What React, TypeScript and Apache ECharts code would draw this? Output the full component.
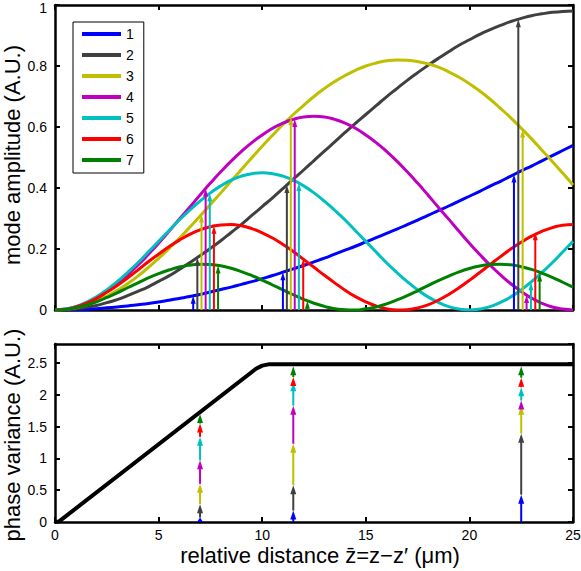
import React, { useEffect, useRef } from "react";
import * as echarts from "echarts";

// ---------- data ----------
const Z = [
  0, 0.5, 1, 1.5, 2, 2.5, 3, 3.5, 4, 4.5, 5, 5.5, 6, 6.5, 7, 7.5, 8, 8.5, 9, 9.5,
  10, 10.5, 11, 11.5, 12, 12.5, 13, 13.5, 14, 14.5, 15, 15.5, 16, 16.5, 17, 17.5, 18, 18.5, 19, 19.5,
  20, 20.5, 21, 21.5, 22, 22.5, 23, 23.5, 24, 24.5, 25,
];

const MODE_NAMES = ["1", "2", "3", "4", "5", "6", "7"];
const MODE_COLORS = ["#0000ff", "#404040", "#bfbf00", "#bf00bf", "#00bfbf", "#ff0000", "#008000"];

const MODE1 = [
  0, 0.000, 0.001, 0.002, 0.004, 0.007, 0.010, 0.013, 0.017, 0.021, 0.026, 0.032, 0.038, 0.044, 0.051, 0.059,
  0.067, 0.075, 0.084, 0.093, 0.103, 0.113, 0.124, 0.135, 0.146, 0.158, 0.170, 0.183, 0.196, 0.209, 0.223,
  0.237, 0.251, 0.265, 0.280, 0.295, 0.310, 0.326, 0.341, 0.357, 0.373, 0.389, 0.406, 0.422, 0.439, 0.456,
  0.472, 0.489, 0.506, 0.523, 0.540,
];
const MODE2 = [
  0, 0.001, 0.004, 0.009, 0.015, 0.024, 0.034, 0.047, 0.061, 0.076, 0.094, 0.112, 0.133, 0.155, 0.178, 0.202,
  0.227, 0.254, 0.281, 0.310, 0.339, 0.368, 0.398, 0.429, 0.459, 0.490, 0.521, 0.551, 0.582, 0.612, 0.641,
  0.670, 0.699, 0.726, 0.753, 0.778, 0.802, 0.825, 0.847, 0.868, 0.886, 0.904, 0.919, 0.933, 0.946, 0.956,
  0.965, 0.971, 0.976, 0.979, 0.980,
];
const MODE3 = [
  0, 0.002, 0.007, 0.016, 0.029, 0.045, 0.064, 0.086, 0.111, 0.139, 0.169, 0.201, 0.235, 0.271, 0.308, 0.346,
  0.384, 0.423, 0.461, 0.499, 0.537, 0.573, 0.608, 0.641, 0.671, 0.700, 0.726, 0.749, 0.769, 0.786, 0.800,
  0.810, 0.817, 0.820, 0.819, 0.815, 0.807, 0.796, 0.781, 0.763, 0.742, 0.718, 0.691, 0.661, 0.630, 0.596,
  0.561, 0.524, 0.487, 0.449, 0.410,
];
const MODE4 = [
  0, 0.003, 0.010, 0.022, 0.039, 0.061, 0.086, 0.115, 0.147, 0.182, 0.219, 0.258, 0.298, 0.337, 0.377, 0.416,
  0.453, 0.488, 0.520, 0.549, 0.574, 0.596, 0.613, 0.625, 0.633, 0.635, 0.633, 0.625, 0.613, 0.596, 0.574,
  0.549, 0.520, 0.488, 0.453, 0.416, 0.377, 0.337, 0.298, 0.258, 0.219, 0.182, 0.147, 0.115, 0.086, 0.061,
  0.039, 0.022, 0.010, 0.003, 0,
];
const MODE5 = [
  0, 0.003, 0.011, 0.025, 0.043, 0.066, 0.093, 0.123, 0.155, 0.190, 0.225, 0.260, 0.295, 0.327, 0.357, 0.384,
  0.407, 0.426, 0.439, 0.447, 0.450, 0.447, 0.439, 0.426, 0.407, 0.384, 0.357, 0.327, 0.295, 0.260, 0.225,
  0.190, 0.155, 0.123, 0.093, 0.066, 0.043, 0.025, 0.011, 0.003, 0, 0.003, 0.011, 0.025, 0.043, 0.066,
  0.093, 0.123, 0.155, 0.190, 0.225,
];
const MODE6 = [
  0, 0.002, 0.010, 0.022, 0.038, 0.058, 0.080, 0.105, 0.131, 0.158, 0.183, 0.207, 0.229, 0.248, 0.263, 0.273,
  0.279, 0.280, 0.276, 0.267, 0.253, 0.236, 0.215, 0.192, 0.166, 0.140, 0.114, 0.089, 0.065, 0.044, 0.027,
  0.013, 0.004, 0.000, 0.001, 0.007, 0.017, 0.032, 0.051, 0.073, 0.097, 0.123, 0.149, 0.175, 0.200, 0.222,
  0.242, 0.258, 0.270, 0.278, 0.280,
];
const MODE7 = [
  0, 0.002, 0.007, 0.016, 0.027, 0.041, 0.056, 0.073, 0.089, 0.105, 0.119, 0.131, 0.141, 0.147, 0.150, 0.149,
  0.145, 0.137, 0.126, 0.113, 0.098, 0.082, 0.066, 0.050, 0.035, 0.022, 0.012, 0.004, 0.001, 0.000, 0.004,
  0.010, 0.020, 0.033, 0.047, 0.063, 0.080, 0.096, 0.111, 0.125, 0.136, 0.144, 0.149, 0.150, 0.148, 0.142,
  0.133, 0.121, 0.107, 0.091, 0.075,
];
const MODES = [MODE1, MODE2, MODE3, MODE4, MODE5, MODE6, MODE7];

// arrows in the upper panel (x position, height) per mode
const ARROWS_A_X = [6.67, 6.87, 7.07, 7.27, 7.47, 7.67, 7.87];
const ARROWS_A_Y = [0.047, 0.172, 0.313, 0.398, 0.383, 0.276, 0.146];
const ARROWS_B_X = [11.0, 11.19, 11.38, 11.57, 11.77, 11.98, 12.18];
const ARROWS_B_Y = [0.124, 0.41, 0.633, 0.626, 0.416, 0.167, 0.03];
const ARROWS_C_X = [22.15, 22.36, 22.57, 22.76, 22.97, 23.18, 23.39];
const ARROWS_C_Y = [0.444, 0.953, 0.592, 0.049, 0.091, 0.255, 0.12];

// phase variance curve
const PHASE_Z = [0, 0.2, 9.7, 10.0, 10.3, 25];
const PHASE_V = [0, 0.01, 2.41, 2.46, 2.48, 2.48];

// stacked arrows in the lower panel: x positions and cumulative tips per mode
const STACK_X = [7, 11.5, 22.5];
const STACK_TIPS_A = [0.07, 0.28, 0.60, 0.97, 1.34, 1.55, 1.70];
const STACK_TIPS_B = [0.18, 0.58, 1.23, 1.83, 2.20, 2.28, 2.45];
const STACK_TIPS_C = [0.43, 1.39, 1.83, 1.91, 2.12, 2.27, 2.45];

const X_TICKS = { min: 0, max: 25, interval: 5 };
const Y_TOP = { min: 0, max: 1, interval: 0.2 };
const Y_BOT = { min: 0, max: 2.8, interval: 0.5 };

const TITLE_X = "relative distance z\u0304=z\u2212z\u2032 (\u03bcm)";
const TITLE_Y_TOP = "mode amplitude (A.U.)";
const TITLE_Y_BOT = "phase variance (A.U.)";

const FONT = "'Liberation Sans', Arial, Helvetica, sans-serif";

function makeArrowRenderer(headW: number, headL: number) {
  return (params: any, api: any) => {
    const x = api.value(0);
    const y0 = api.value(1);
    const y1 = api.value(2);
    const m = api.value(3);
    const color = MODE_COLORS[m];
    const p0 = api.coord([x, y0]);
    const p1 = api.coord([x, y1]);
    const zeroY = api.coord([x, 0])[1];
    const baseY = Math.min(p1[1] + headL, zeroY);
    const children: any[] = [];
    if (p0[1] > baseY) {
      children.push({
        type: "line",
        shape: { x1: p0[0], y1: p0[1], x2: p0[0], y2: baseY - 1 },
        style: { stroke: color, lineWidth: 2 },
      });
    }
    children.push({
      type: "polygon",
      shape: {
        points: [
          [p1[0] - headW / 2, baseY],
          [p1[0] + headW / 2, baseY],
          [p1[0], p1[1]],
        ],
      },
      style: { fill: color },
    });
    return { type: "group", children };
  };
}

function buildOption() {
  const axisLine = { show: true, onZero: false, lineStyle: { color: "#000", width: 2.5 } };
  const axisTick = { show: true, inside: true, length: 5, lineStyle: { color: "#000", width: 2 } };
  const axisLabel = { color: "#000", fontSize: 14, fontFamily: FONT };

  const lineSeries = MODES.map((vals, i) => ({
    name: MODE_NAMES[i],
    type: "line",
    xAxisIndex: 0,
    yAxisIndex: 0,
    data: Z.map((z, k) => [z, vals[k]]),
    smooth: true,
    symbol: "none",
    showSymbol: false,
    lineStyle: { color: MODE_COLORS[i], width: 3 },
    itemStyle: { color: MODE_COLORS[i] },
    z: 2,
  }));

  const topArrowData: number[][] = [];
  [
    [ARROWS_A_X, ARROWS_A_Y],
    [ARROWS_B_X, ARROWS_B_Y],
    [ARROWS_C_X, ARROWS_C_Y],
  ].forEach(([xs, ys]) => {
    xs.forEach((x, i) => topArrowData.push([x, 0, ys[i], i]));
  });

  const stackData: number[][] = [];
  [STACK_TIPS_A, STACK_TIPS_B, STACK_TIPS_C].forEach((tips, g) => {
    tips.forEach((tip, i) => {
      const base = i === 0 ? 0 : tips[i - 1];
      stackData.push([STACK_X[g], base, tip, i]);
    });
  });

  const yTitleStyle = (text: string) => ({
    text,
    fontSize: 22,
    fontFamily: FONT,
    fill: "#000",
    align: "center",
    verticalAlign: "middle",
  });

  return {
    animation: false,
    backgroundColor: "#fff",
    textStyle: { fontFamily: FONT },
    grid: [
      { left: 55, right: 8, top: 5, height: 305, containLabel: false, outerBoundsMode: "none" },
      { left: 55, right: 8, top: 344, height: 178, containLabel: false, outerBoundsMode: "none" },
    ],
    graphic: [
      { type: "text", x: 12.5, y: 155, rotation: Math.PI / 2, style: yTitleStyle(TITLE_Y_TOP) },
      { type: "text", x: 12.5, y: 435, rotation: Math.PI / 2, style: yTitleStyle(TITLE_Y_BOT) },
    ],
    legend: {
      data: MODE_NAMES,
      orient: "vertical",
      left: 73,
      top: 22,
      icon: "rect",
      itemWidth: 39,
      itemHeight: 4,
      itemGap: 5,
      padding: [4, 10, 5, 9],
      borderColor: "#000",
      borderWidth: 1,
      backgroundColor: "#fff",
      textStyle: { fontSize: 14, color: "#000", fontFamily: FONT, lineHeight: 16 },
      selectedMode: false,
    },
    xAxis: [
      {
        type: "value", gridIndex: 0, position: "bottom", ...X_TICKS,
        axisLine, axisTick, axisLabel: { show: false }, splitLine: { show: false },
      },
      {
        type: "value", gridIndex: 0, position: "top", ...X_TICKS,
        axisLine, axisTick, axisLabel: { show: false }, splitLine: { show: false },
      },
      {
        type: "value", gridIndex: 1, position: "bottom", ...X_TICKS,
        axisLine, axisTick, axisLabel: { ...axisLabel, margin: 6 }, splitLine: { show: false },
        name: TITLE_X,
        nameLocation: "middle",
        nameGap: 22,
        nameTextStyle: { fontSize: 22, color: "#000", fontFamily: FONT, padding: [0, 0, 0, 12] },
      },
      {
        type: "value", gridIndex: 1, position: "top", ...X_TICKS,
        axisLine, axisTick, axisLabel: { show: false }, splitLine: { show: false },
      },
    ],
    yAxis: [
      {
        type: "value", gridIndex: 0, position: "left", ...Y_TOP,
        axisLine, axisTick,
        axisLabel: {
          ...axisLabel,
          formatter: (v: number) => (v === 1 ? "{top|1}" : String(v)),
          rich: { top: { fontSize: 14, color: "#000", fontFamily: FONT, padding: [5, 0, 0, 0] } },
        },
        splitLine: { show: false },
      },
      {
        type: "value", gridIndex: 0, position: "right", ...Y_TOP,
        axisLine, axisTick, axisLabel: { show: false }, splitLine: { show: false },
      },
      {
        type: "value", gridIndex: 1, position: "left", ...Y_BOT,
        axisLine, axisTick, axisLabel: { ...axisLabel, showMaxLabel: false }, splitLine: { show: false },
      },
      {
        type: "value", gridIndex: 1, position: "right", ...Y_BOT,
        axisLine, axisTick, axisLabel: { show: false }, splitLine: { show: false },
      },
    ],
    series: [
      ...lineSeries,
      {
        name: "amplitude arrows",
        type: "custom",
        xAxisIndex: 0,
        yAxisIndex: 0,
        renderItem: makeArrowRenderer(5, 8),
        encode: { x: 0, y: [1, 2] },
        data: topArrowData,
        z: 3,
      },
      {
        name: "phase variance",
        type: "line",
        xAxisIndex: 2,
        yAxisIndex: 2,
        data: PHASE_Z.map((z, k) => [z, PHASE_V[k]]),
        symbol: "none",
        showSymbol: false,
        lineStyle: { color: "#000", width: 4, join: "round" },
        itemStyle: { color: "#000" },
        z: 2,
      },
      {
        name: "phase arrows",
        type: "custom",
        xAxisIndex: 2,
        yAxisIndex: 2,
        renderItem: makeArrowRenderer(6, 9),
        encode: { x: 0, y: [1, 2] },
        data: stackData,
        z: 3,
      },
    ],
  };
}

export default function App() {
  const ref = useRef<HTMLDivElement>(null);
  useEffect(() => {
    if (!ref.current) return;
    const chart = echarts.init(ref.current, undefined, { renderer: "svg" });
    chart.setOption(buildOption() as any);
    return () => chart.dispose();
  }, []);
  return (
    <div
      ref={ref}
      style={{ position: "fixed", left: 0, top: 0, width: 581, height: 571, background: "#fff" }}
    />
  );
}
